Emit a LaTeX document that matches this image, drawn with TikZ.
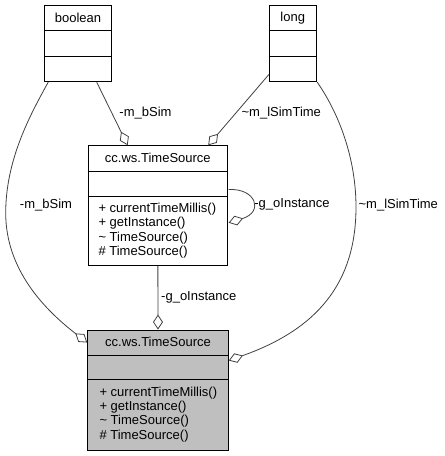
\documentclass[tikz,border=0pt]{standalone}
\usepackage{fontspec}
\setmainfont{Liberation Sans}
\usetikzlibrary{arrows.meta,calc}
\definecolor{edgegray}{HTML}{404040}
\definecolor{boxgray}{HTML}{BFBFBF}
\tikzset{
  classbox/.style={draw=black, line width=0.9pt, inner sep=0pt, rectangle},
  txt/.style={font=\fontsize{13}{15}\selectfont, inner sep=0pt, text=black},
  meth/.style={txt, anchor=west},
  aggr/.style={draw=edgegray, line width=0.8pt, -{Diamond[open,length=15pt,width=10pt]}},
  elabel/.style={txt}
}
\begin{document}
\begin{tikzpicture}[x=1pt,y=-1pt]
\useasboundingbox (0,0) rectangle (445,456);
% boolean
\node[classbox, minimum width=66.6pt, minimum height=76pt] (bool) at (78,43.7) {};
\draw[black, line width=0.9pt] ($(bool.north west)+(0,25.6)$) -- ($(bool.north east)+(0,25.6)$);
\draw[black, line width=0.9pt] ($(bool.north west)+(0,51)$) -- ($(bool.north east)+(0,51)$);
\node[txt] (boolt) at (78,18) {boolean};
% long
\node[classbox, minimum width=46.7pt, minimum height=76pt] (long) at (292.7,43.7) {};
\draw[black, line width=0.9pt] ($(long.north west)+(0,25.6)$) -- ($(long.north east)+(0,25.6)$);
\draw[black, line width=0.9pt] ($(long.north west)+(0,51)$) -- ($(long.north east)+(0,51)$);
\node[txt] (longt) at (292.7,18) {long};
% middle TimeSource
\node[classbox, fill=white, minimum width=139.7pt, minimum height=120pt] (mid) at (157.85,205.7) {};
\draw[black, line width=0.9pt] ($(mid.north west)+(0,26)$) -- ($(mid.north east)+(0,26)$);
\draw[black, line width=0.9pt] ($(mid.north west)+(0,51)$) -- ($(mid.north east)+(0,51)$);
\node[txt] (midt) at (157.85,158) {cc.ws.TimeSource};
\node[meth] (m1) at (98.3,209.3) {+ currentTimeMillis()};
\node[meth] (m2) at (98.3,223.6) {+ getInstance()};
\node[meth] (m3) at (98.3,237.9) {\textasciitilde{} TimeSource()};
\node[meth] (m4) at (98.3,252.2) {\# TimeSource()};
% bottom TimeSource
\node[classbox, fill=boxgray, minimum width=140.6pt, minimum height=120pt] (bot) at (158,390) {};
\draw[black, line width=0.9pt] ($(bot.north west)+(0,25.7)$) -- ($(bot.north east)+(0,25.7)$);
\draw[black, line width=0.9pt] ($(bot.north west)+(0,50)$) -- ($(bot.north east)+(0,50)$);
\node[txt] (bott) at (158,342) {cc.ws.TimeSource};
\node[meth] (b1) at (99.3,392.7) {+ currentTimeMillis()};
\node[meth] (b2) at (99.3,407) {+ getInstance()};
\node[meth] (b3) at (99.3,421.5) {\textasciitilde{} TimeSource()};
\node[meth] (b4) at (99.3,436) {\# TimeSource()};
% edges
\draw[aggr] ($(bool.south)+(18.7,0)$) -- ($(mid.north)+(-30.2,0)$);
\draw[aggr] ($(long.south west)+(0,-7.7)$) -- ($(mid.north)+(50.4,0)$);
\draw[aggr] ($(mid.north east)+(0.5,44.3)$) .. controls (256,188) and (264,212) .. ($(mid.north east)+(0.5,77.5)$);
\draw[aggr] (mid.south) -- (bot.north);
\draw[aggr] ($(bool.south west)+(4,0)$) .. controls (30,115) and (5.7,160) .. (5.7,213)
  .. controls (5.7,270) and (45,310) .. ($(bot.north west)+(0,13)$);
\draw[aggr] ($(long.south east)+(0.7,0)$) .. controls (340,115) and (356,160) .. (356,207)
  .. controls (356,285) and (315,330) .. ($(bot.north east)+(0,31)$);
% edge labels
\node[elabel] (l1) at (145.5,113) {-m\_bSim};
\node[elabel] (l2) at (281.3,113) {\textasciitilde m\_lSimTime};
\node[elabel] (l3) at (292,204.5) {-g\_oInstance};
\node[elabel] (l4) at (198.8,297) {-g\_oInstance};
\node[elabel] (l5) at (46,205) {-m\_bSim};
\node[elabel] (l6) at (398.3,205) {\textasciitilde m\_lSimTime};
\end{tikzpicture}
\end{document}
